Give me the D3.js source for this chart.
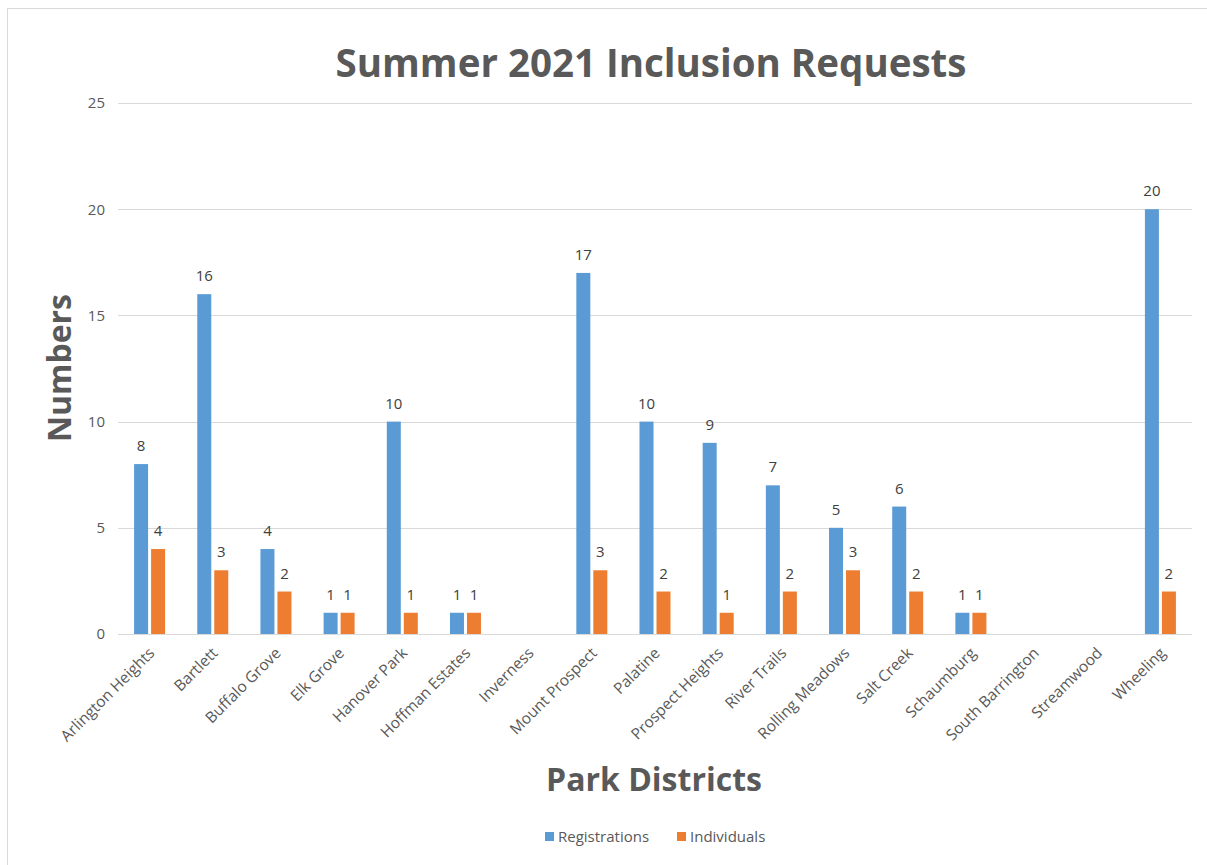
<!DOCTYPE html>
<html>
<head>
<meta charset="utf-8">
<script src="https://cdn.jsdelivr.net/npm/d3@7"></script>
<style>
  html, body { margin: 0; padding: 0; background: #fff; }
  svg { display: block; font-family: "Open Sans", Lato, sans-serif; }
</style>
</head>
<body>
<svg id="chart" width="1207" height="865"></svg>
<script>
// Park districts and request counts (null = no requests recorded)
const districts = ["Arlington Heights", "Bartlett", "Buffalo Grove", "Elk Grove", "Hanover Park",
  "Hoffman Estates", "Inverness", "Mount Prospect", "Palatine", "Prospect Heights", "River Trails",
  "Rolling Meadows", "Salt Creek", "Schaumburg", "South Barrington", "Streamwood", "Wheeling"];
const registrations = [8, 16, 4, 1, 10, 1, null, 17, 10, 9, 7, 5, 6, 1, null, null, 20];
const individuals   = [4, 3, 2, 1, 1, 1, null, 3, 2, 1, 2, 3, 2, 1, null, null, 2];
const seriesNames = ["Registrations", "Individuals"];
const seriesColors = ["#5B9BD5", "#ED7D31"];
const yTicks = [0, 5, 10, 15, 20, 25];

const svg = d3.select("#chart");
const textColor = "#595959";
const fontFamily = "'Open Sans', Lato, sans-serif";

// chart frame
svg.append("rect")
  .attr("x", 7.5).attr("y", 8.5).attr("width", 1215).attr("height", 870)
  .attr("fill", "#fff").attr("stroke", "#D9D9D9").attr("stroke-width", 1);

const plot = { left: 118, right: 1192, top: 103, bottom: 634 };

const x = d3.scaleBand().domain(districts).range([plot.left, plot.right]).padding(0);
const y = d3.scaleLinear().domain([0, 25]).range([plot.bottom, plot.top]);

// gridlines
svg.append("g").selectAll("line").data(yTicks).join("line")
  .attr("x1", plot.left).attr("x2", plot.right)
  .attr("y1", d => Math.round(y(d)) + 0.5).attr("y2", d => Math.round(y(d)) + 0.5)
  .attr("stroke", "#D9D9D9").attr("stroke-width", 1);

// y axis tick labels
const yAxis = d3.axisLeft(y).tickValues(yTicks).tickSize(0).tickPadding(0);
const gy = svg.append("g").attr("transform", `translate(${plot.left - 13},0)`).call(yAxis);
gy.select(".domain").remove();
gy.selectAll("text").attr("fill", textColor).attr("font-size", 15)
  .attr("font-family", fontFamily);

// x axis category labels
const xAxis = d3.axisBottom(x).tickSize(0).tickPadding(0);
const gx = svg.append("g").attr("transform", `translate(0,${plot.bottom})`).call(xAxis);
gx.select(".domain").remove();
gx.selectAll("text")
  .attr("fill", textColor).attr("font-size", 15.5)
  .attr("font-family", fontFamily)
  .attr("text-anchor", "end")
  .attr("dy", null)
  .attr("transform", "translate(6,20) rotate(-45)");

// grouped bars
const barW = 14, gap = 3;
const series = [registrations, individuals];
series.forEach((vals, si) => {
  const offset = si === 0 ? -(barW + gap / 2) : gap / 2;
  const data = districts.map((d, i) => ({ d, v: vals[i] })).filter(e => e.v != null);
  const g = svg.append("g");
  g.selectAll("rect").data(data).join("rect")
    .attr("x", e => x(e.d) + x.bandwidth() / 2 + offset)
    .attr("y", e => y(e.v))
    .attr("width", barW)
    .attr("height", e => y(0) - y(e.v))
    .attr("fill", seriesColors[si]);
  g.selectAll("text").data(data).join("text")
    .attr("x", e => x(e.d) + x.bandwidth() / 2 + offset + barW / 2)
    .attr("y", e => y(e.v) - 13)
    .attr("text-anchor", "middle")
    .attr("font-size", 15).attr("fill", "#404040")
    .text(e => e.v);
});

// titles
svg.append("text").attr("x", 651).attr("y", 77).attr("text-anchor", "middle")
  .attr("font-size", 38.5).attr("font-weight", "bold").attr("fill", textColor)
  .text("Summer 2021 Inclusion Requests");

svg.append("text").attr("transform", "translate(71,368) rotate(-90)")
  .attr("text-anchor", "middle")
  .attr("font-size", 32).attr("font-weight", "bold").attr("fill", textColor)
  .text("Numbers");

svg.append("text").attr("x", 654).attr("y", 791).attr("text-anchor", "middle")
  .attr("font-size", 32).attr("font-weight", "bold").attr("fill", textColor)
  .text("Park Districts");

// legend
const legendItems = [{ name: seriesNames[0], color: seriesColors[0], x: 545 },
                     { name: seriesNames[1], color: seriesColors[1], x: 677 }];
const lg = svg.append("g").selectAll("g").data(legendItems).join("g")
  .attr("transform", d => `translate(${d.x},832)`);
lg.append("rect").attr("width", 9).attr("height", 9).attr("fill", d => d.color);
lg.append("text").attr("x", 13).attr("y", 10).attr("font-size", 15)
  .attr("fill", textColor).text(d => d.name);
</script>
</body>
</html>
